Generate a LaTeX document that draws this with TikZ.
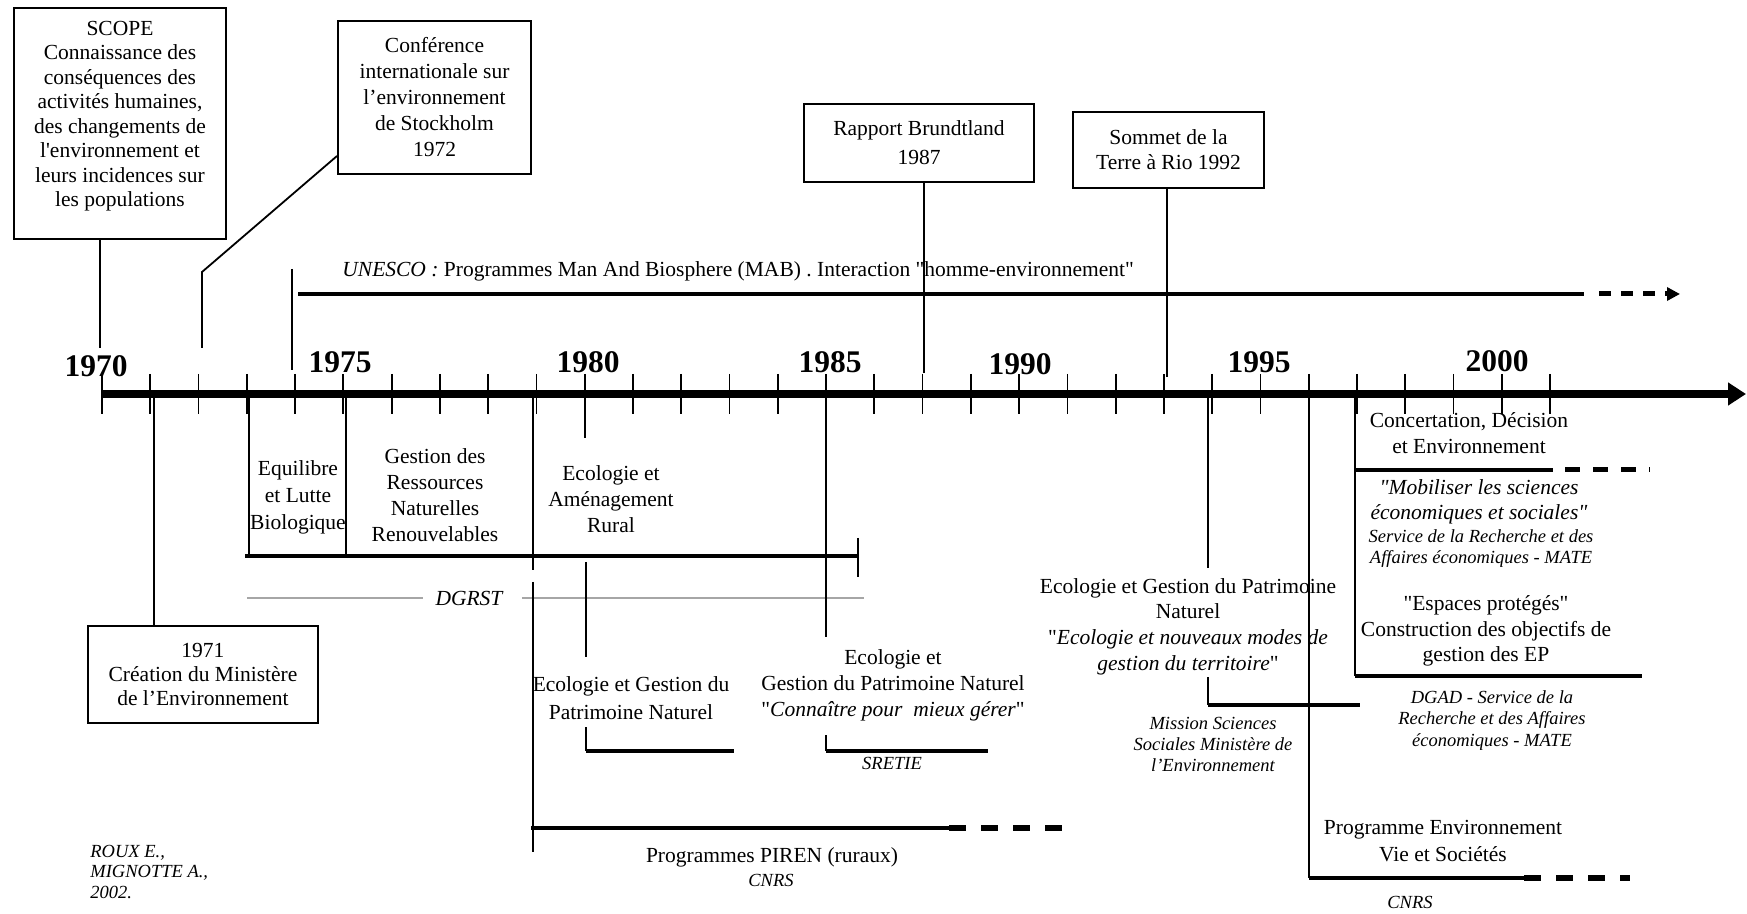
\documentclass[tikz,border=0pt]{standalone}
\usepackage{fontspec}
\setmainfont{Liberation Serif}[Ligatures=TeXOff]
\usetikzlibrary{positioning,calc,arrows.meta}
\tikzset{>=Triangle}

\newcommand{\tlbody}{\fontsize{10.75}{13}\selectfont}
\newcommand{\tlsmallfont}{\fontsize{9.25}{10.5}\selectfont\itshape}
\newcommand{\tlyearfont}{\fontsize{15.75}{16}\selectfont\bfseries}

\tikzset{
  evbox/.style={draw,line width=1pt,inner sep=0pt,align=center,font=\tlbody},
  tltext/.style={inner sep=0pt,align=center,font=\tlbody},
  tlsmall/.style={inner sep=0pt,align=center,font=\tlsmallfont},
  yearlab/.style={inner sep=0pt,font=\tlyearfont},
  timeaxis/.style={line width=4pt,-{Triangle[length=9pt,width=11pt]}},
  yeartick/.style={line width=0.9pt},
  evline/.style={line width=0.9pt},
  spanline/.style={line width=2pt},
  dashtail/.style={line width=3pt,dash pattern=on 8.5pt off 7.5pt},
  grayline/.style={line width=1pt,draw=gray!70},
}

\begin{document}
\begin{tikzpicture}[x=0.5pt,y=-0.5pt]
\useasboundingbox (0,0) rectangle (1747,914);
% time axis
\foreach \yr in {1970,...,2000}
  \coordinate (y\yr) at ({102+48.27*(\yr-1970)},394);
\coordinate (axisend) at (1746,394);
\draw[timeaxis] (y1970) -- (axisend);
\foreach \yr in {1970,...,2000}
  \draw[yeartick] ([yshift=10pt]y\yr) -- ([yshift=-10pt]y\yr);
\foreach \yr/\lx/\ly in {1970/96/366,1975/340/362,1980/588/362,1985/830/362,1990/1020/364,1995/1259/362,2000/1497/361}
  \node[yearlab] (l\yr) at (\lx,\ly) {\yr};

% events above the axis
\node[evbox,minimum width=106pt,minimum height=115.5pt] (scope) at (120,123.5) {};
\node[tltext,font={\fontsize{10.75}{12.25}\selectfont}] (scopetxt) at (120,116) {SCOPE\\Connaissance des\\conséquences des\\activités humaines,\\des changements de\\l\textquotesingle environnement et\\leurs incidences sur\\les populations};
\coordinate (scopefoot) at (100,348);
\draw[evline] (scope.south -| scopefoot) -- (scopefoot);

\node[evbox,minimum width=96.5pt,minimum height=76.5pt] (stock) at (434.5,97.5) {Conférence\\internationale sur\\l’environnement\\de Stockholm\\1972};
\coordinate (stockbend) at (202,272);
\coordinate (stockfoot) at (202,348);
\draw[evline] ([yshift=9.5pt]stock.south west) -- (stockbend) -- (stockfoot);

\node[evbox,minimum width=115pt,minimum height=39pt,font={\fontsize{10.75}{14.5}\selectfont}] (brund) at (919,143) {Rapport Brundtland\\1987};
\coordinate (brundfoot) at (924,373);
\draw[evline] (brund.south -| brundfoot) -- (brundfoot);

\node[evbox,minimum width=95.5pt,minimum height=38pt,font={\fontsize{10.75}{12.5}\selectfont}] (sommet) at (1168.5,150) {Sommet de la\\Terre à Rio 1992};
\coordinate (sommetfoot) at (1167,377);
\draw[evline] (sommet.south -| sommetfoot) -- (sommetfoot);

% UNESCO
\node[anchor=base west,inner sep=0pt,font=\tlbody] (unescotxt) at (342,277) {\textit{UNESCO :} Programmes Man And Biosphere (MAB) . Interaction "homme-environnement"};
\coordinate (unescotop) at (292,269);
\coordinate (unescofoot) at (292,370);
\draw[evline] (unescotop) -- (unescofoot);
\coordinate (unescoA) at (298,294);
\coordinate (unescoB) at (1584,294);
\coordinate (unescoC) at (1599,294);
\coordinate (unescoD) at (1680,294);
\draw[spanline] (unescoA) -- (unescoB);
\draw[line width=2.5pt,dash pattern=on 6pt off 5pt,-{Triangle[length=6.5pt,width=6.5pt]}] (unescoC) -- (unescoD);

% 1971
\node[evbox,minimum width=115pt,minimum height=48.5pt,font={\fontsize{10.75}{12}\selectfont}] (minist) at (203,674.5) {1971\\Création du Ministère\\de l’Environnement};
\coordinate (ministtop) at (154,394);
\draw[evline] (ministtop) -- (minist.north -| ministtop);

% DGRST programmes
\coordinate (eqA) at (245,556);
\coordinate (eqB) at (858,556);
\draw[spanline] (eqA) -- (eqB);
\draw[evline] ([yshift=9pt]eqB) -- ([yshift=-10.5pt]eqB);
\coordinate (eqtop) at (249,394);
\draw[evline] (eqtop) -- (eqtop |- eqA);
\coordinate (grtop) at (346,394);
\draw[evline] (grtop) -- (grtop |- eqA);
\node[tltext,font={\fontsize{10.75}{13.5}\selectfont}] (equil) at (298,497) {Equilibre\\et Lutte\\Biologique};
\node[tltext] (gestres) at (435,495) {Gestion des\\Ressources\\Naturelles\\Renouvelables};
\node[tltext,font=\tlbody\itshape] (dgrst) at (469,598) {DGRST};
\coordinate (dgA) at (247,598);
\coordinate (dgB) at (864,598);
\draw[grayline] (dgA) -- ([xshift=-6pt]dgrst.west);
\draw[grayline] ([xshift=9.5pt]dgrst.east) -- (dgB);

% PIREN
\coordinate (pirtop) at (533,394);
\coordinate (pirgapA) at (533,570);
\coordinate (pirgapB) at (533,582);
\coordinate (pirfoot) at (533,852);
\draw[evline] (pirtop) -- (pirgapA);
\draw[evline] (pirgapB) -- (pirfoot);
\coordinate (pirA) at (531,828);
\coordinate (pirB) at (949,828);
\coordinate (pirC) at (1062,828);
\draw[spanline] (pirA) -- (pirB);
\draw[dashtail] (pirB) -- (pirC);
\node[tltext] (piren) at (772,857) {Programmes PIREN (ruraux)};
\node[tlsmall] (pircnrs) at (771,880) {CNRS};

% 1980
\coordinate (amtop) at (585,394);
\coordinate (amfoot) at (585,438);
\draw[evline] (amtop) -- (amfoot);
\node[tltext] (amen) at (611,499) {Ecologie et\\Aménagement\\Rural};
\coordinate (egA) at (586,562);
\coordinate (egB) at (586,657);
\draw[evline] (egA) -- (egB);
\node[tltext,font={\fontsize{10.75}{14}\selectfont}] (egpn) at (631,698) {Ecologie et Gestion du\\Patrimoine Naturel};
\coordinate (egC) at (586,727);
\coordinate (egD) at (586,751);
\coordinate (egE) at (734,751);
\draw[evline] (egC) -- (egD);
\draw[spanline] (egD) -- (egE);

% 1985
\coordinate (cptop) at (826,394);
\coordinate (cpfoot) at (826,637);
\draw[evline] (cptop) -- (cpfoot);
\node[tltext] (connaitre) at (893,685.5) {Ecologie et\\Gestion du Patrimoine Naturel\\"\textit{Connaître pour\ \ mieux gérer}"};
\coordinate (cpC) at (826,735);
\coordinate (cpD) at (826,751);
\coordinate (cpE) at (988,751);
\draw[evline] (cpC) -- (cpD);
\draw[spanline] (cpD) -- (cpE);
\node[tlsmall] (sretie) at (892,763) {SRETIE};

% 1993
\coordinate (mstop) at (1208,394);
\coordinate (msfoot) at (1208,568);
\draw[evline] (mstop) -- (msfoot);
\node[tltext,font={\fontsize{10.75}{12.85}\selectfont}] (patri) at (1188,626.5) {Ecologie et Gestion du Patrimoine\\Naturel\\"\textit{Ecologie et nouveaux modes de}\\\textit{gestion du territoire}"};
\coordinate (msC) at (1208,677);
\coordinate (msD) at (1208,705);
\coordinate (msE) at (1360,705);
\draw[evline] (msC) -- (msD);
\draw[spanline] (msD) -- (msE);
\node[tlsmall] (mission) at (1213,744) {Mission Sciences\\Sociales Ministère de\\l’Environnement};

% 1995
\coordinate (pevtop) at (1309,394);
\coordinate (pevD) at (1309,878);
\coordinate (pevE) at (1524,878);
\coordinate (pevF) at (1630,878);
\draw[evline] (pevtop) -- (pevD);
\draw[spanline] (pevD) -- (pevE);
\draw[dashtail] (pevE) -- (pevF);
\node[tltext,font={\fontsize{10.75}{13.5}\selectfont}] (pev) at (1443,841.5) {Programme Environnement\\Vie et Sociétés};
\node[tlsmall] (pevcnrs) at (1410,902) {CNRS};

% 1996
\coordinate (cdtop) at (1355,394);
\coordinate (cdA) at (1355,470);
\coordinate (cdB) at (1553,470);
\coordinate (cdC) at (1650,470);
\coordinate (epD) at (1355,676);
\coordinate (epE) at (1642,676);
\draw[evline] (cdtop) -- (epD);
\draw[spanline] (cdA) -- (cdB);
\draw[dashtail,line width=2.5pt,dash pattern=on 7.5pt off 6.5pt] ([xshift=6pt]cdB) -- (cdC);
\draw[spanline] (epD) -- (epE);
\node[tltext] (concert) at (1469,433) {Concertation, Décision\\et Environnement};
\node[tltext,font={\fontsize{10.75}{12.5}\selectfont\itshape}] (mobil) at (1479,501.5) {"Mobiliser les sciences\\économiques et sociales"};
\node[tlsmall] (srae) at (1481,548.5) {Service de la Recherche et des\\Affaires économiques - MATE};
\node[tltext,font={\fontsize{10.75}{12.75}\selectfont}] (espaces) at (1486,631) {"Espaces protégés"\\Construction des objectifs de\\gestion des EP};
\node[tlsmall,font={\fontsize{9.25}{10.75}\selectfont\itshape}] (dgad) at (1492,720.5) {DGAD - Service de la\\Recherche et des Affaires\\économiques - MATE};

% credit
\node[tlsmall,align=left,anchor=west,font={\fontsize{9.25}{10.25}\selectfont\itshape}] (roux) at (90,872) {ROUX E.,\\MIGNOTTE A.,\\2002.};
\end{tikzpicture}
\end{document}
